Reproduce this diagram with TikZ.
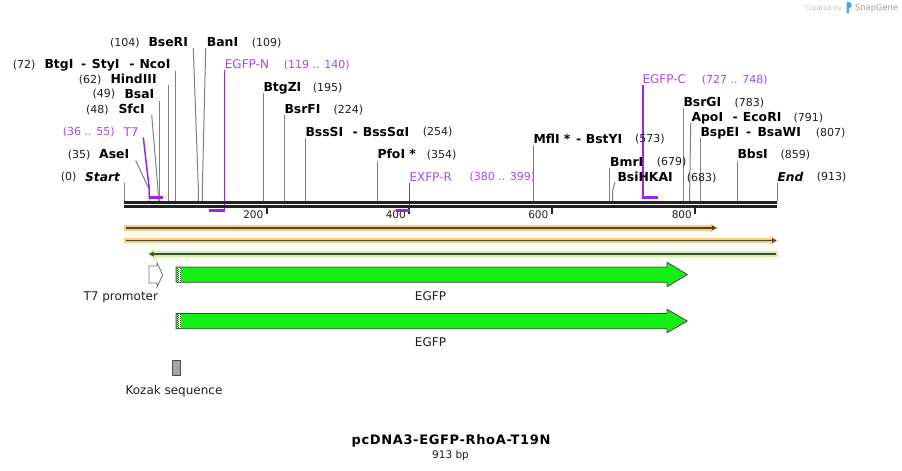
\documentclass[tikz,border=0pt]{standalone}
\usepackage{fontspec}
\setmainfont{DejaVu Sans}
\usetikzlibrary{arrows.meta}
\definecolor{sitegray}{RGB}{128,128,128}
\definecolor{bbc}{RGB}{34,34,34}
\definecolor{numc}{RGB}{30,30,30}
\definecolor{primer}{RGB}{155,35,235}
\definecolor{primertext}{RGB}{165,70,245}
\definecolor{orangeband}{RGB}{253,204,120}
\definecolor{greenband}{RGB}{200,245,150}
\definecolor{darkline}{RGB}{70,70,70}
\definecolor{egfpgreen}{RGB}{20,240,20}
\definecolor{kozakgray}{RGB}{160,164,173}
\definecolor{sgblue}{RGB}{70,165,230}
\begin{document}
\begin{tikzpicture}[x=1pt,y=-1pt,
 num/.style={font=\fontsize{11}{13}\selectfont, text=numc, anchor=base west, inner sep=0pt},
 enz/.style={font=\bfseries\fontsize{12.4}{14}\selectfont, text=black, anchor=base west, inner sep=0pt},
 enzi/.style={enz, font=\bfseries\itshape\fontsize{12.2}{14}\selectfont},
 prm/.style={font=\fontsize{12}{14}\selectfont, text=primertext, anchor=base west, inner sep=0pt},
 prmnum/.style={num, text=primertext},
 cut/.style={draw=sitegray, line width=1pt},
 pline/.style={draw=primer, line width=1.5pt},
 pbar/.style={draw=primer, line width=2.2pt},
 bb/.style={draw=bbc, line width=2.7pt},
 tickmark/.style={draw=bbc, line width=2pt},
 ticklab/.style={font=\fontsize{10.5}{12}\selectfont, anchor=base east, inner sep=0pt, text=numc},
 feat/.style={font=\fontsize{12}{14}\selectfont, anchor=base, inner sep=0pt, text=numc},
 seqdark/.style={draw=darkline, line width=1.8pt, -{Triangle[length=4.5pt,width=4.5pt]}},
 egfp/.style={fill=egfpgreen, draw=darkline, line width=0.8pt},
]
\useasboundingbox (0,0) rectangle (902,471);

% ---------- Created by SnapGene ----------
\node[font=\fontsize{6.7}{8}\selectfont, text=black!25, anchor=base west, inner sep=0pt] (cb) at (805,10) {Created by};
\fill[sgblue] (846.5,2) -- (849,2) .. controls (852.5,2) and (852.5,8) .. (849,8) -- (849,13) -- (846.5,13) -- cycle;
\node[font=\fontsize{8.3}{10}\selectfont, text=black!38, anchor=base west, inner sep=0pt] (sg) at (855,10.5) {SnapGene};

% ---------- cut-site lines ----------
\draw[cut] (124,183) -- (124,201);
\draw[cut] (135.7,160.5) -- (149,189) -- (149,201);
\draw[cut] (151.7,115) -- (158,190) -- (158,201);
\draw[cut] (159.3,100.5) -- (159.3,201);
\draw[cut] (168,85) -- (168,201);
\draw[cut] (175.3,70.5) -- (175.3,201);
\draw[cut] (193.3,48) -- (198.4,190) -- (198.4,201);
\draw[cut] (205.7,48) -- (202.3,190) -- (202.3,201);
\draw[cut] (263.3,93) -- (263.3,201);
\draw[cut] (284.3,115) -- (284.3,201);
\draw[cut] (305.5,138) -- (305.5,201);
\draw[cut] (377.3,160.5) -- (377.3,201);
\draw[cut] (533.5,145) -- (533.5,201);
\draw[cut] (609.5,168) -- (609.5,201);
\draw[cut] (615,182) -- (612.5,191) -- (612.5,201);
\draw[cut] (683.5,108) -- (683.5,201);
\draw[cut] (690.7,123) -- (689.7,190) -- (689.7,201);
\draw[cut] (700.5,138) -- (700.5,201);
\draw[cut] (737.5,160.5) -- (737.5,201);
\draw[cut] (777,183) -- (777,201);

% ---------- primer lines ----------
\draw[pline] (143.3,137.5) -- (149.3,189) -- (149.3,197.5);
\draw[pbar] (148.6,197.5) -- (163.3,197.5);
\draw[pline] (224.5,70) -- (224.5,210.5);
\draw[pbar] (209,210.5) -- (225.2,210.5);
\draw[pline] (409.3,183) -- (409.3,210.5);
\draw[pline] (643,84.5) -- (643,197.5);
\draw[pbar] (642.3,197.5) -- (658,197.5);

% ---------- backbone ----------
\draw[bb] (124,202.3) -- (777,202.3);
\draw[bb] (124,206.4) -- (777,206.4);

% ---------- ticks ----------
\draw[tickmark] (266.7,207.7) -- (266.7,214.3);
\draw[tickmark] (409.3,207.7) -- (409.3,214.3);
\draw[tickmark] (551.7,207.7) -- (551.7,214.3);
\draw[tickmark] (695,207.7) -- (695,214.3);
\node[ticklab] (t200) at (263.5,218) {200};
\node[ticklab] (t400) at (406,218) {400};
\node[ticklab] (t600) at (548.5,218) {600};
\node[ticklab] (t800) at (692,218) {800};
\draw[pbar] (395.5,210.5) -- (410,210.5);

% ---------- labels ----------
\node[num] (n104) at (110,46.3) {(104)};
\node[enz] (eBseRI) at (148.3,46.7) {BseRI};
\node[enz] (eBanI) at (206.7,46.7) {BanI};
\node[num] (n109) at (251.7,46.3) {(109)};

\node[num] (n72) at (12.7,68) {(72)};
\node[enz] (eBtgI) at (44.3,68.4) {BtgI};
\node[enz] (dA) at (80.8,68.4) {-};
\node[enz] (eStyI) at (91.7,68.4) {StyI};
\node[enz] (dB) at (129.2,68.4) {-};
\node[enz] (eNcoI) at (139.3,68.4) {NcoI};
\node[prm] (pEGFPN) at (224.7,68.4) {EGFP-N};
\node[prmnum] (rEGFPN) at (283.7,68) {(119 .. 140)};

\node[num] (n62) at (78.7,83.3) {(62)};
\node[enz] (eHind) at (110.3,83.7) {HindIII};
\node[enz] (eBtgZI) at (263.3,91.7) {BtgZI};
\node[num] (n195) at (312.7,91.3) {(195)};
\node[num] (n49) at (92.3,97.7) {(49)};
\node[enz] (eBsaI) at (124.3,98.1) {BsaI};
\node[num] (n48) at (86,113) {(48)};
\node[enz] (eSfcI) at (118.3,113.4) {SfcI};
\node[enz] (eBsrFI) at (284.3,113.4) {BsrFI};
\node[num] (n224) at (333.3,113) {(224)};

\node[prmnum] (rT7) at (62.7,135.7) {(36 .. 55)};
\node[prm] (pT7) at (123.3,136.1) {T7};
\node[enz] (eBssSI) at (305.3,136.1) {BssSI};
\node[enz] (dC) at (352.5,136.1) {-};
\node[enz] (eBssSaI) at (362.7,136.1) {BssSαI};
\node[num] (n254) at (422.7,135.7) {(254)};

\node[num] (n35) at (67.7,158.3) {(35)};
\node[enz] (eAseI) at (99,158.7) {AseI};
\node[enz] (ePfoI) at (377.3,158.7) {PfoI *};
\node[num] (n354) at (426.7,158.3) {(354)};
\node[enz] (eBbsI) at (737.3,158.7) {BbsI};
\node[num] (n859) at (780.3,158.3) {(859)};

\node[num] (n0) at (60.7,180.7) {(0)};
\node[enzi] (eStart) at (85,181.1) {Start};
\node[prm] (pEXFPR) at (409.3,181.1) {EXFP-R};
\node[prmnum] (rEXFPR) at (469.3,180.7) {(380 .. 399)};
\node[enz] (eBsiHKAI) at (617.3,181.4) {BsiHKAI};
\node[num] (n683) at (686.7,181) {(683)};
\node[enzi] (eEnd) at (777.3,181.1) {End};
\node[num] (n913) at (816.7,180.7) {(913)};

\node[enz] (eMflI) at (533.3,143.1) {MflI *};
\node[enz] (dD) at (575.8,143.1) {-};
\node[enz] (eBstYI) at (585.7,143.1) {BstYI};
\node[num] (n573) at (635,142.7) {(573)};

\node[enz] (eBmrI) at (610,166.1) {BmrI};
\node[num] (n679) at (656.7,165.7) {(679)};

\node[prm] (pEGFPC) at (642.3,83.4) {EGFP-C};
\node[prmnum] (rEGFPC) at (701.7,83) {(727 .. 748)};

\node[enz] (eBsrGI) at (683.3,106.4) {BsrGI};
\node[num] (n783) at (734.3,106) {(783)};
\node[enz] (eApoI) at (691.3,121.7) {ApoI};
\node[enz] (dE) at (732.5,121.7) {-};
\node[enz] (eEcoRI) at (742.7,121.7) {EcoRI};
\node[num] (n791) at (793.3,121.3) {(791)};
\node[enz] (eBspEI) at (700.3,136.4) {BspEI};
\node[enz] (dF) at (746,136.4) {-};
\node[enz] (eBsaWI) at (757.3,136.4) {BsaWI};
\node[num] (n807) at (815.7,136) {(807)};

% ---------- sequence traces ----------
\fill[orangeband] (124,225) rectangle (711,230.8);
\fill[orangeband] (710,223.3) -- (718.5,227.9) -- (710,232.5) -- cycle;
\draw[seqdark] (126,227.9) -- (716.5,227.9);

\fill[orangeband] (124,237.7) rectangle (771,243.4);
\fill[orangeband] (770,235.7) -- (778,240.5) -- (770,245.3) -- cycle;
\draw[seqdark] (126,240.5) -- (776.5,240.5);

\fill[greenband] (154,251) rectangle (777.7,257);
\fill[greenband] (155,248.6) -- (147.5,254) -- (155,259.4) -- cycle;
\draw[seqdark] (776,254) -- (149,254);

% ---------- features ----------
\draw[draw=black!55, fill=white, line width=0.8pt] (149,266) -- (157,266) -- (157,262.5) -- (162.7,275) -- (157,287) -- (157,283) -- (149,283) -- cycle;
\node[feat] (lT7) at (120.8,300.4) {T7 promoter};

\draw[egfp] (176,267) -- (667,267) -- (667,262.3) -- (687.3,274.5) -- (667,286.7) -- (667,282.3) -- (176,282.3) -- cycle;
\fill[white] (176.5,267.5) rectangle (181,281.8);
\draw[black!75, line width=0.9pt, dash pattern=on 1pt off 1pt] (177.3,267.5) -- (177.3,282);
\draw[black!75, line width=0.9pt, dash pattern=on 1pt off 1pt, dash phase=1pt] (178.9,267.5) -- (178.9,282);
\draw[black!75, line width=0.9pt, dash pattern=on 1pt off 1pt] (180.5,267.5) -- (180.5,282);
\node[feat] (lEGFP1) at (430.5,300.4) {EGFP};

\draw[egfp] (176,313.5) -- (667,313.5) -- (667,309.3) -- (687.3,321) -- (667,332.7) -- (667,328.8) -- (176,328.8) -- cycle;
\fill[white] (176.5,314) rectangle (181,328.3);
\draw[black!75, line width=0.9pt, dash pattern=on 1pt off 1pt] (177.3,314) -- (177.3,328.5);
\draw[black!75, line width=0.9pt, dash pattern=on 1pt off 1pt, dash phase=1pt] (178.9,314) -- (178.9,328.5);
\draw[black!75, line width=0.9pt, dash pattern=on 1pt off 1pt] (180.5,314) -- (180.5,328.5);
\node[feat] (lEGFP2) at (430.5,346.4) {EGFP};

\draw[fill=kozakgray, draw=black!70, line width=0.8pt] (172.3,360.3) rectangle (180,375.7);
\node[feat] (lKozak) at (174,394.4) {Kozak sequence};

% ---------- title ----------
\node[font=\bfseries\fontsize{13}{15}\selectfont\addfontfeatures{LetterSpace=5}, anchor=base, inner sep=0pt, text=black] (title) at (451,444.5) {pcDNA3-EGFP-RhoA-T19N};
\node[font=\fontsize{10.5}{12}\selectfont, anchor=base, inner sep=0pt, text=numc] (bp) at (450.5,458) {913 bp};
\end{tikzpicture}
\end{document}
